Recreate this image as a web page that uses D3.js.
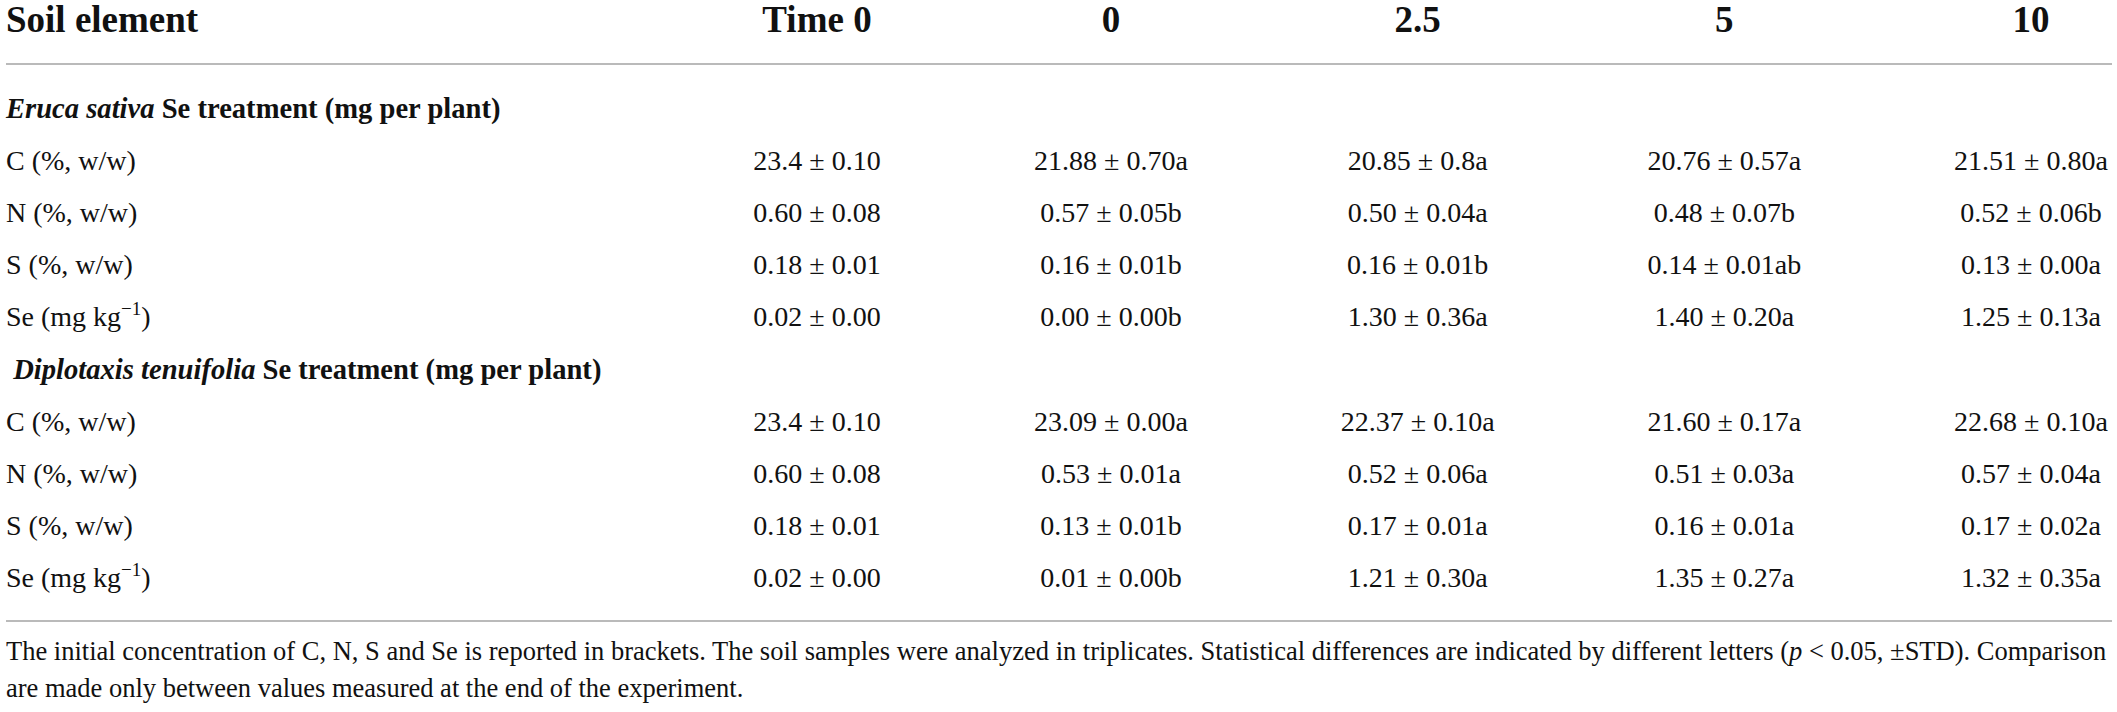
<!DOCTYPE html>
<meta charset="utf-8">
<head>
	<style type="text/css">
		body { margin: 0; background: #fff; }
		text { font-family: "Liberation Serif", "Times New Roman", serif; fill: #111; }
		.head { font-weight: bold; font-size: 37px; }
		.group { font-weight: bold; font-size: 28.6px; white-space: pre; }
		.cell { font-size: 28px; }
		.note { font-size: 26.5px; }
		.rule { stroke: #a3a3a3; stroke-width: 1.6; }
	</style>
	<title>Soil elements table</title>
</head>

<script src="https://cdn.jsdelivr.net/npm/d3@7"></script>

<svg width="2117" height="712" id="svg1"></svg>

<script>
	const columns = ['Time 0', '0', '2.5', '5', '10'];
	const elements = ['C (%, w/w)', 'N (%, w/w)', 'S (%, w/w)', 'Se (mg kg'];
	const groups = ['Eruca sativa', 'Diplotaxis tenuifolia'];

	// Eruca sativa
	const erucaMean = [
		['23.4', '21.88', '20.85', '20.76', '21.51'],
		['0.60', '0.57', '0.50', '0.48', '0.52'],
		['0.18', '0.16', '0.16', '0.14', '0.13'],
		['0.02', '0.00', '1.30', '1.40', '1.25']
	];
	const erucaSD = [
		['0.10', '0.70', '0.8', '0.57', '0.80'],
		['0.08', '0.05', '0.04', '0.07', '0.06'],
		['0.01', '0.01', '0.01', '0.01', '0.00'],
		['0.00', '0.00', '0.36', '0.20', '0.13']
	];
	const erucaLetter = [
		['', 'a', 'a', 'a', 'a'],
		['', 'b', 'a', 'b', 'b'],
		['', 'b', 'b', 'ab', 'a'],
		['', 'b', 'a', 'a', 'a']
	];

	// Diplotaxis tenuifolia
	const diploMean = [
		['23.4', '23.09', '22.37', '21.60', '22.68'],
		['0.60', '0.53', '0.52', '0.51', '0.57'],
		['0.18', '0.13', '0.17', '0.16', '0.17'],
		['0.02', '0.01', '1.21', '1.35', '1.32']
	];
	const diploSD = [
		['0.10', '0.00', '0.10', '0.17', '0.10'],
		['0.08', '0.01', '0.06', '0.03', '0.04'],
		['0.01', '0.01', '0.01', '0.01', '0.02'],
		['0.00', '0.00', '0.30', '0.27', '0.35']
	];
	const diploLetter = [
		['', 'a', 'a', 'a', 'a'],
		['', 'a', 'a', 'a', 'a'],
		['', 'b', 'a', 'a', 'a'],
		['', 'b', 'a', 'a', 'a']
	];

	const noteLines = [
		'The initial concentration of C, N, S and Se is reported in brackets. The soil samples were analyzed in triplicates. Statistical differences are indicated by different letters (',
		'are made only between values measured at the end of the experiment.'
	];

	const svg1 = d3.select('#svg1');
	const width = +svg1.attr('width');

	const left = 6, right = 2112;

	// column centres: Time 0 is a bit narrower than the treatment columns
	const x = d3.scaleLinear()
		.domain([0, 1, columns.length - 1])
		.range([817, 1111, 2031]);

	// body rows: group header + 4 elements, twice
	const y = d3.scaleLinear()
		.domain([0, 9])
		.range([118, 587]);

	// header
	svg1.append('text')
		.attr('class', 'head')
		.attr('x', left)
		.attr('y', 32)
		.text('Soil element');

	svg1.selectAll('.colhead')
		.data(columns)
		.enter()
			.append('text')
				.attr('class', 'head colhead')
				.attr('x', (d, i) => x(i))
				.attr('y', 32)
				.attr('text-anchor', 'middle')
				.text(d => d);

	svg1.append('line').attr('class', 'rule')
		.attr('x1', left).attr('x2', right)
		.attr('y1', 64).attr('y2', 64);

	const blocks = [
		{ name: groups[0], mean: erucaMean, sd: erucaSD, letter: erucaLetter, lead: '' },
		{ name: groups[1], mean: diploMean, sd: diploSD, letter: diploLetter, lead: ' ' }
	];

	blocks.forEach((b, bi) => {
		const r0 = bi * 5;

		const gh = svg1.append('text')
			.attr('class', 'group')
			.attr('x', left)
			.attr('y', y(r0));
		gh.append('tspan').attr('font-style', 'italic').text(b.lead + b.name);
		gh.append('tspan').text(' Se treatment (mg per plant)');

		elements.forEach((el, ei) => {
			const row = svg1.append('g')
				.attr('transform', `translate(0, ${y(r0 + 1 + ei)})`);

			const lab = row.append('text')
				.attr('class', 'cell')
				.attr('x', left);
			lab.append('tspan').text(el);
			if (el.startsWith('Se')) {
				lab.append('tspan').attr('dy', -11).attr('font-size', 19).text('\u22121');
				lab.append('tspan').attr('dy', 11).text(')');
			}

			row.selectAll('.val')
				.data(columns)
				.enter()
					.append('text')
						.attr('class', 'cell val')
						.attr('x', (d, i) => x(i))
						.attr('text-anchor', 'middle')
						.text((d, i) => b.mean[ei][i] + ' \u00b1 ' + b.sd[ei][i] + b.letter[ei][i]);
		});
	});

	svg1.append('line').attr('class', 'rule')
		.attr('x1', left).attr('x2', right)
		.attr('y1', 621).attr('y2', 621);

	// footnote
	const n1 = svg1.append('text')
		.attr('class', 'note')
		.attr('x', left)
		.attr('y', 660);
	n1.append('tspan').text(noteLines[0]);
	n1.append('tspan').attr('font-style', 'italic').text('p');
	n1.append('tspan').text(' < 0.05, \u00b1STD). Comparison');

	svg1.append('text')
		.attr('class', 'note')
		.attr('x', left)
		.attr('y', 697)
		.text(noteLines[1]);
</script>
